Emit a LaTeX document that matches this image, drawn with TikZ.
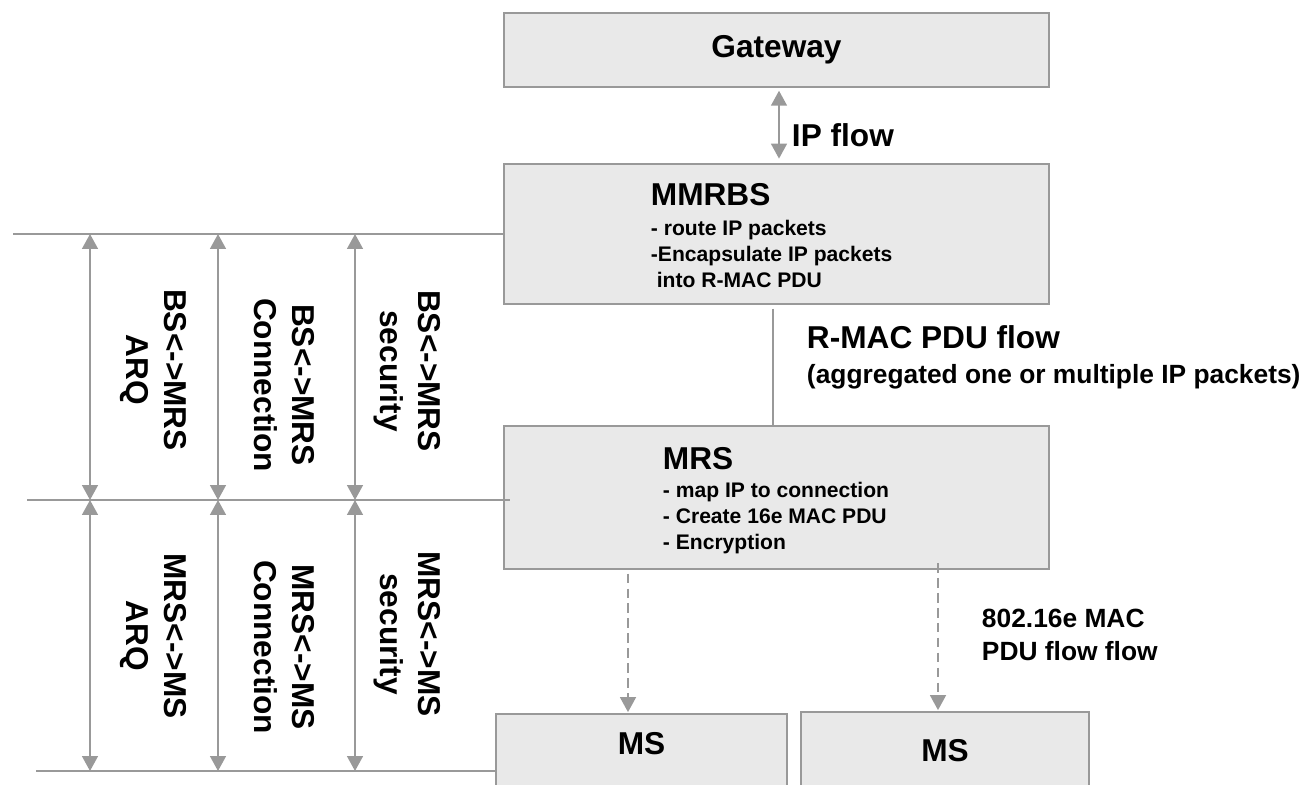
\documentclass[tikz,border=0pt]{standalone}
\usepackage{fontspec}
\setmainfont{Liberation Sans}
\usetikzlibrary{arrows.meta, positioning, calc}
\definecolor{lgrey}{HTML}{999999}
\definecolor{boxfill}{HTML}{E9E9E9}
\tikzset{
  every picture/.style={font=\bfseries, line width=1.1pt},
  box/.style={draw=lgrey, fill=boxfill, line width=1.2pt, inner sep=0pt, anchor=north west},
  head/.style={font=\bfseries\fontsize{18}{21.6}\selectfont, inner sep=0pt},
  items/.style={font=\bfseries\fontsize{12}{14.8}\selectfont, align=left, inner sep=0pt},
  note/.style={font=\bfseries\fontsize{15}{18.8}\selectfont, align=left, inner sep=0pt},
  vlabel/.style={font=\bfseries\fontsize{18}{21.6}\selectfont, align=center, rotate=-90, inner sep=0pt},
  biarrow/.style={<->, >={Triangle[length=8.5pt, width=9pt]}, draw=lgrey},
  link/.style={draw=lgrey},
  flow/.style={->, >={Triangle[length=8.5pt, width=9pt]}, draw=lgrey, dash pattern=on 5.5pt off 3pt},
}

\begin{document}
\begin{tikzpicture}[x=0.02cm, y=-0.02cm]
  \useasboundingbox (0,0) rectangle (1304,784);
  \clip (0,0) rectangle (1304,784);
  % gateway and base station
  \node[box, minimum width=10.9cm, minimum height=1.48cm] (gw) at (503,12) {};
  \node[head] at (gw.center) {Gateway};
  \node[box, minimum width=10.9cm, minimum height=2.8cm] (mmrbs) at (503,163) {};
  \node[head, anchor=west] at (650,195) {MMRBS};
  \node[items, anchor=north west] at (650,219.5) {- route IP packets\\-Encapsulate IP packets\\ \ into R-MAC PDU};
  % relay station
  \node[box, minimum width=10.9cm, minimum height=2.86cm] (mrs) at (503,425) {};
  \node[head, anchor=west] at (662,459) {MRS};
  \node[items, anchor=north west] at (662,481.5) {- map IP to connection\\- Create 16e MAC PDU\\- Encryption};
  % mobile stations, cut off at the bottom
  \node[box, minimum width=5.82cm, minimum height=1.8cm] (ms1) at (495,713) {};
  \node[box, minimum width=5.76cm, minimum height=1.8cm] (ms2) at (800,711) {};
  \node[head] at ($(ms1.north)+(0,31)$) {MS};
  \node[head] at ($(ms2.north)+(0,40)$) {MS};

  % flows between the entities
  \draw[biarrow, shorten <=1.5pt, shorten >=2.5pt] (gw.south -| 779,0) -- (mmrbs.north -| 779,0);
  \node[head, anchor=west] at (791,135) {IP flow};
  \draw[link, shorten <=2pt, shorten >=-1pt] (mmrbs.south -| 773,0) -- (mrs.north -| 773,0);
  \node[head, anchor=west] at (806,337) {R-MAC PDU flow};
  \node[note, anchor=west] at (806,377) {(aggregated one or multiple IP packets)};
  \draw[flow, shorten <=2pt, shorten >=0.5pt] (mrs.south -| 628,0) -- (ms1.north -| 628,0);
  \draw[flow, shorten <=-4pt, shorten >=0.5pt] (mrs.south -| 938,0) -- (ms2.north -| 938,0);
  \node[note, anchor=north west] at (981,608.5) {802.16e MAC\\PDU flow flow};

  % protocol spans on the left
  \coordinate (r1) at (13,234);
  \coordinate (r2) at (27,500);
  \coordinate (r3) at (36,771);
  \draw[link] (r1) -- (mmrbs.west |- r1);
  \draw[link] (r2) -- ($(mrs.west |- r2)+(7,0)$);
  \draw[link] (r3) -- (ms1.west |- r3);
  \foreach \x in {90,218,355} {
    \draw[biarrow] (r1 -| \x,0) -- (r2 -| \x,0);
    \draw[biarrow] (r2 -| \x,0) -- (r3 -| \x,0);
  }
  \node[vlabel] at (153,370) {BS<->MRS\\ARQ};
  \node[vlabel] at (284,385) {BS<->MRS\\Connection};
  \node[vlabel] at (407,371) {BS<->MRS\\security};
  \node[vlabel] at (153,636) {MRS<->MS\\ARQ};
  \node[vlabel] at (284,647) {MRS<->MS\\Connection};
  \node[vlabel] at (407,634) {MRS<->MS\\security};
\end{tikzpicture}
\end{document}
